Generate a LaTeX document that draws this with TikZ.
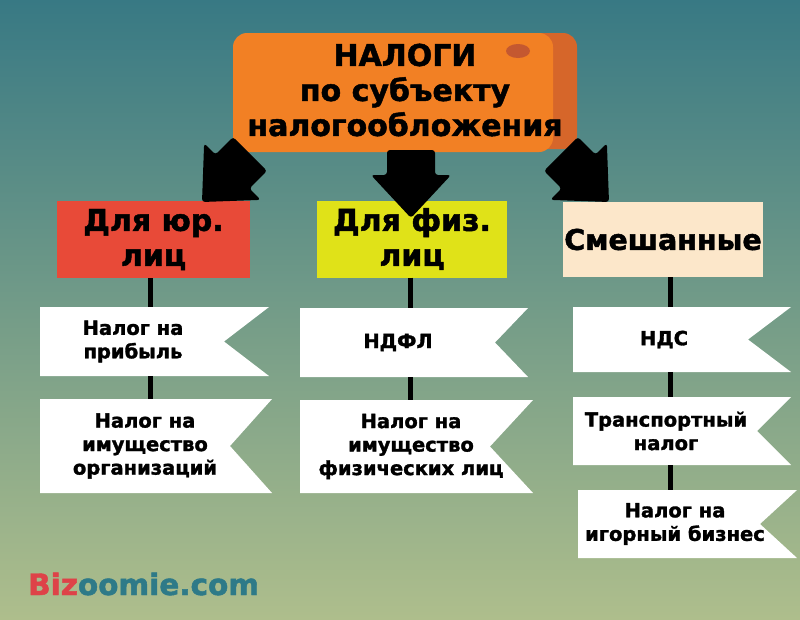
\documentclass[tikz,border=0pt]{standalone}
\usepackage{fontspec}
\setmainfont{DejaVu Sans}[BoldFeatures={FakeBold=1.6}]
\usetikzlibrary{shapes}

\definecolor{bgtop}{RGB}{56,121,132}
\definecolor{bgmid}{RGB}{128,163,140}
\definecolor{bgbot}{RGB}{174,190,140}
\definecolor{orfront}{RGB}{242,128,36}
\definecolor{orside}{RGB}{214,102,42}
\definecolor{orhole}{RGB}{196,88,48}
\definecolor{jurred}{RGB}{232,74,56}
\definecolor{fizyel}{RGB}{224,226,24}
\definecolor{mixbeige}{RGB}{252,231,202}
\definecolor{bizred}{RGB}{222,66,72}
\definecolor{bizteal}{RGB}{46,122,136}

% white flag with a notch on the right: x1,y1,x2,y2,depth
\newcommand{\flag}[5]{\fill[white] (#1,#2) -- (#3,#2) -- ({#3-#5},{(#2+#4)/2}) -- (#3,#4) -- (#1,#4) -- cycle;}

\tikzset{
  cat/.style={minimum width=193, minimum height=77, inner sep=0pt, align=center,
    font=\fontsize{30}{35}\selectfont\bfseries},
  tag/.style={inner sep=0pt, align=center, font=\fontsize{19.5}{23.5}\selectfont\bfseries},
  link/.style={line width=5pt},
  bigarrow/.pic={\fill[rounded corners=3pt] (0,0) -- (-40,-43) -- (-24,-43) -- (-24,-68)
    -- (24,-68) -- (24,-43) -- (40,-43) -- cycle;}
}

\begin{document}
\begin{tikzpicture}[x=1pt,y=-1pt]
    \useasboundingbox (0,0) rectangle (800,619);
    \shade[top color=bgtop, middle color=bgmid, bottom color=bgbot] (0,0) rectangle (800,619);

    % title plate
    \fill[orside, rounded corners=14pt] (250,33) rectangle (577,149);
    \fill[orfront, rounded corners=14pt] (233,33) rectangle (553,152);
    \fill[orhole] (518,51) ellipse (12pt and 7pt);
    \node[align=center, font=\fontsize{30}{35}\selectfont\bfseries] (title) at (405,90)
        {НАЛОГИ\\по субъекту\\налогообложения};

    \node[cat, fill=jurred] (jur) at (153.5,239.5) {Для юр.\\лиц};
    \node[cat, fill=fizyel, minimum width=190] (fiz) at (412,239) {Для физ.\\лиц};
    \node[cat, fill=mixbeige, minimum width=200, minimum height=75,
        font=\fontsize{28.5}{35}\selectfont\bfseries] (mix) at (663,239.5) {Смешанные};

    \flag{40}{307}{269}{376}{45}
    \flag{40}{399}{272}{493}{42}
    \flag{300}{308}{528}{377}{33}
    \flag{300}{400}{533}{493}{43}
    \flag{573}{307}{791}{372}{43}
    \flag{573}{397}{791}{465}{34}
    \flag{578}{490}{797}{558}{37}

    \node[tag, minimum height=69] (pribyl) at (133,341.5) {Налог на\\прибыль};
    \node[tag, minimum height=94] (imorg) at (145,446) {Налог на\\имущество\\организаций};
    \node[tag, minimum height=69] (ndfl) at (398,342.5) {НДФЛ};
    \node[tag, minimum height=93] (imfiz) at (411,446.5) {Налог на\\имущество\\физических лиц};
    \node[tag, minimum height=65] (nds) at (664,339.5) {НДС};
    \node[tag, minimum height=68] (trans) at (666,431) {Транспортный\\налог};
    \node[tag, minimum height=68] (igorn) at (675,524) {Налог на\\игорный бизнес};

    \coordinate (jurfoot) at ([xshift=-3.5pt]jur.south);
    \coordinate (fizfoot) at ([xshift=-2pt]fiz.south);
    \coordinate (mixfoot) at ([xshift=7pt]mix.south);

    \draw[link] (jurfoot) -- (jurfoot |- pribyl.north);
    \draw[link] (jurfoot |- pribyl.south) -- (jurfoot |- imorg.north);
    \draw[link] (fizfoot) -- (fizfoot |- ndfl.north);
    \draw[link] (fizfoot |- ndfl.south) -- (fizfoot |- imfiz.north);
    \draw[link] (mixfoot) -- (mixfoot |- nds.north);
    \draw[link] (mixfoot |- nds.south) -- (mixfoot |- trans.north);
    \draw[link] (mixfoot |- trans.south) -- (mixfoot |- igorn.north);

    % block arrows
    \path (202,202) pic[rotate=-45] {bigarrow};
    \path (411,218) pic {bigarrow};
    \path (609,202) pic[rotate=45] {bigarrow};

    \node[anchor=base west, inner sep=0pt, font=\fontsize{29.5}{30}\selectfont\bfseries] (brand) at (28,595)
        {\textcolor{bizred}{Biz}\textcolor{bizteal}{oomie.com}};
\end{tikzpicture}
\end{document}
